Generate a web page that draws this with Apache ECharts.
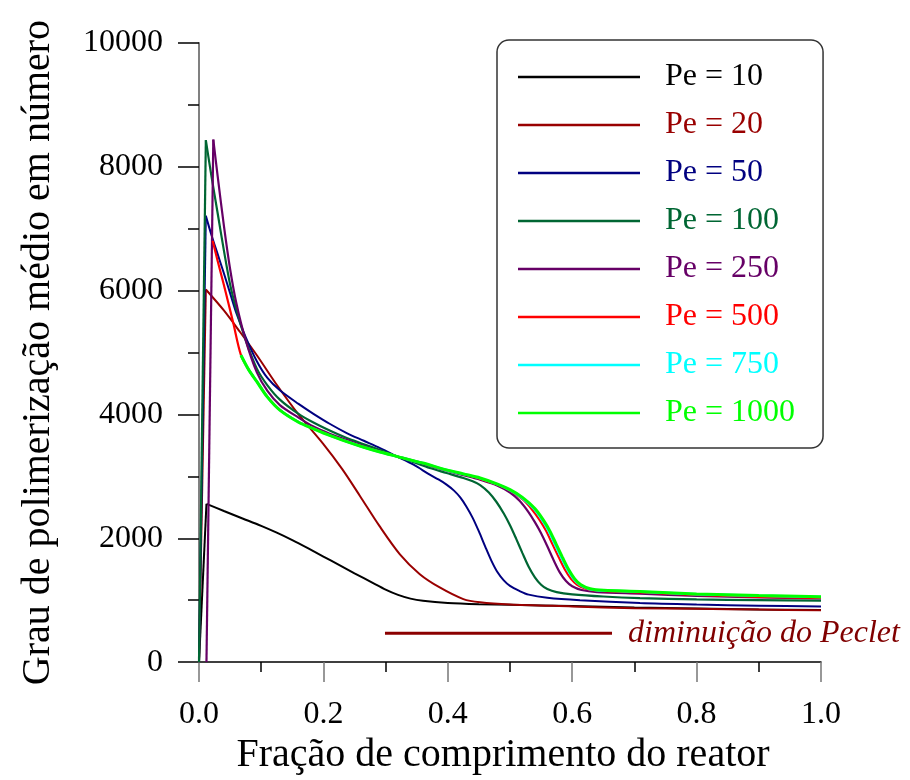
<!DOCTYPE html>
<html>
<head>
<meta charset="utf-8">
<script src="https://cdn.jsdelivr.net/npm/echarts@6/dist/echarts.min.js"></script>
<style>
html,body{margin:0;padding:0;background:#fff;}
#chart{width:910px;height:780px;}
</style>
</head>
<body>
<div id="chart"></div>
<script>
// ---- data (x = fração de comprimento, y = grau de polimerização) ----
const seriesNames = ['Pe = 10','Pe = 20','Pe = 50','Pe = 100','Pe = 250','Pe = 500','Pe = 750','Pe = 1000'];
const seriesColors = ['#000000','#990000','#000080','#006633','#660066','#ff0000','#00ffff','#00ff00'];

// initial rise (straight segments from the inlet to the peak)
const pe10Rise = [[0,0],[0.012,2556]];
const pe20Rise = [[0,0],[0.011,6018]];
const pe50Rise = [[0,0],[0.011,7208]];
const pe100Rise = [[0,0],[0.011,8430]];
const pe250Rise = [[0.012,0],[0.023,8440]];

// decay after the peak
const pe10 = [[0.012,2556],[0.04,2440],[0.07,2320],[0.1,2200],[0.125,2090],[0.15,1970],[0.175,1840],[0.2,1705],[0.225,1570],[0.25,1435],[0.28,1275],[0.3,1170],[0.32,1085],[0.34,1025],[0.36,990],[0.4,955],[0.45,935],[0.5,925],[0.6,905],[0.7,880],[0.8,865],[0.9,850],[1.0,840]];
const pe20 = [[0.011,6018],[0.04,5680],[0.066,5332],[0.093,4957],[0.125,4480],[0.16,4000],[0.2,3520],[0.23,3120],[0.259,2680],[0.29,2200],[0.323,1741],[0.355,1420],[0.387,1206],[0.425,1018],[0.452,965],[0.5,930],[0.6,900],[0.7,870],[0.8,860],[0.9,848],[1.0,838]];
const pe50 = [[0.011,7208],[0.02,6900],[0.03,6590],[0.04,6280],[0.05,5960],[0.06,5640],[0.075,5250],[0.093,4860],[0.11,4590],[0.13,4390],[0.16,4170],[0.184,4010],[0.21,3850],[0.2375,3700],[0.265,3575],[0.291,3457],[0.318,3323],[0.345,3188],[0.371,3028],[0.385,2950],[0.398,2867],[0.41,2770],[0.42,2660],[0.43,2510],[0.44,2330],[0.45,2110],[0.46,1870],[0.47,1640],[0.48,1450],[0.49,1320],[0.5,1230],[0.515,1150],[0.53,1090],[0.56,1040],[0.6125,1000],[0.709,954],[0.8,930],[0.9,912],[1.0,900]];
const pe100 = [[0.011,8430],[0.02,7850],[0.03,7250],[0.04,6650],[0.05,6100],[0.06,5700],[0.075,5200],[0.093,4740],[0.11,4470],[0.13,4240],[0.16,4010],[0.184,3870],[0.21,3740],[0.2375,3620],[0.265,3520],[0.291,3425],[0.318,3323],[0.345,3228],[0.371,3135],[0.398,3055],[0.425,2974],[0.44,2920],[0.452,2860],[0.466,2740],[0.478,2590],[0.49,2400],[0.5,2210],[0.51,1990],[0.52,1760],[0.53,1540],[0.54,1370],[0.55,1250],[0.56,1180],[0.575,1130],[0.6,1095],[0.65,1060],[0.709,1034],[0.8,1012],[0.9,1000],[1.0,992]];
const pe250 = [[0.023,8440],[0.03,7850],[0.04,7050],[0.05,6350],[0.06,5800],[0.075,5200],[0.093,4680],[0.11,4380],[0.13,4152],[0.16,3950],[0.184,3805],[0.21,3690],[0.2375,3590],[0.265,3490],[0.291,3405],[0.318,3323],[0.36,3205],[0.398,3095],[0.425,3020],[0.452,2945],[0.48,2850],[0.5,2740],[0.515,2610],[0.53,2420],[0.54,2260],[0.55,2080],[0.56,1870],[0.57,1650],[0.58,1450],[0.59,1310],[0.6,1225],[0.615,1165],[0.64,1130],[0.709,1105],[0.8,1070],[0.9,1045],[1.0,1029]];
const pe500 = [[0.022,6805],[0.03,6480],[0.039,6130],[0.047,5810],[0.055,5480],[0.0675,4957],[0.08,4720],[0.093,4535],[0.11,4285],[0.13,4075],[0.16,3880],[0.184,3775],[0.21,3665],[0.2375,3565],[0.265,3472],[0.291,3395],[0.318,3323],[0.36,3212],[0.398,3100],[0.425,3035],[0.452,2960],[0.48,2865],[0.5,2770],[0.52,2630],[0.535,2470],[0.548,2290],[0.558,2120],[0.568,1910],[0.578,1700],[0.588,1500],[0.598,1345],[0.608,1250],[0.623,1180],[0.645,1150],[0.709,1125],[0.8,1085],[0.9,1055],[1.0,1035]];
const pe750 = [[0.0675,4957],[0.08,4720],[0.093,4532],[0.11,4282],[0.13,4072],[0.16,3877],[0.184,3772],[0.21,3663],[0.2375,3563],[0.265,3471],[0.291,3394],[0.318,3323],[0.36,3214],[0.398,3103],[0.425,3038],[0.452,2968],[0.48,2870],[0.5,2778],[0.52,2648],[0.539,2470],[0.552,2290],[0.562,2120],[0.572,1910],[0.582,1700],[0.592,1500],[0.602,1345],[0.612,1250],[0.627,1182],[0.649,1155],[0.709,1138],[0.8,1097],[0.9,1071],[1.0,1052]];
const pe1000 = [[0.0675,4957],[0.08,4720],[0.093,4529],[0.11,4280],[0.13,4070],[0.16,3875],[0.184,3770],[0.21,3662],[0.2375,3562],[0.265,3470],[0.291,3393],[0.318,3323],[0.36,3215],[0.398,3105],[0.425,3040],[0.452,2974],[0.48,2875],[0.5,2785],[0.52,2660],[0.54,2480],[0.554,2290],[0.564,2120],[0.574,1910],[0.584,1700],[0.594,1500],[0.604,1345],[0.614,1250],[0.629,1185],[0.651,1160],[0.709,1141],[0.8,1100],[0.9,1075],[1.0,1056]];

const riseData = [pe10Rise, pe20Rise, pe50Rise, pe100Rise, pe250Rise, null, null, null];
const decayData = [pe10, pe20, pe50, pe100, pe250, pe500, pe750, pe1000];
const seriesWidths = [2, 2, 2, 2.2, 2.2, 2.2, 2.5, 3];

const annotationLine = [[0.299, 466], [0.664, 466]];
const annotationText = 'diminuição do Peclet';

const xTitle = 'Fração de comprimento do reator';
const yTitle = 'Grau de polimerização médio em número';

// ---- chart ----
const FONT = '"Liberation Serif", "Times New Roman", serif';
const chart = echarts.init(document.getElementById('chart'), null, {renderer: 'canvas'});

const series = [];
seriesNames.forEach((n, i) => {
  const style = {color: seriesColors[i], width: seriesWidths[i]};
  if (riseData[i]) {
    series.push({
      name: n, type: 'line', data: riseData[i], symbol: 'none', smooth: false,
      z: 2 + i, lineStyle: style, itemStyle: {color: seriesColors[i]}
    });
  }
  series.push({
    name: n, type: 'line', data: decayData[i], symbol: 'none',
    smooth: 0.3,
    z: 2 + i, lineStyle: style, itemStyle: {color: seriesColors[i]}
  });
});

series.push({
  name: 'annotation',
  type: 'line',
  data: annotationLine,
  symbol: 'none',
  lineStyle: {color: '#8b0000', width: 3},
  itemStyle: {color: '#8b0000'},
  endLabel: {
    show: true, distance: 16,
    formatter: annotationText,
    fontFamily: '"Liberation Serif", serif', fontStyle: 'italic', fontSize: 32, color: '#800000'
  },
  z: 20,
  silent: true
});

chart.setOption({
  animation: false,
  backgroundColor: '#ffffff',
  grid: {left: 199, top: 43, width: 622, height: 622, containLabel: false},
  legend: {
    orient: 'vertical',
    left: 497, top: 40,
    padding: [21, 28, 19, 21],
    itemWidth: 122, itemHeight: 2.5, itemGap: 16,
    icon: 'rect',
    borderColor: '#333', borderWidth: 1.5, borderRadius: 12,
    backgroundColor: '#ffffff',
    textStyle: {fontFamily: FONT, fontSize: 32, lineHeight: 32, padding: [0, 0, 0, 20]},
    data: seriesNames.map((n, i) => ({name: n, textStyle: {color: seriesColors[i]}}))
  },
  xAxis: {
    type: 'value', min: 0, max: 1, interval: 0.2,
    name: xTitle, nameLocation: 'middle', nameGap: 68,
    nameTextStyle: {fontFamily: FONT, fontSize: 40, color: '#000', padding: [0, 14, 0, 0]},
    axisLine: {show: true, onZero: false, lineStyle: {color: '#000', width: 1.5}},
    axisTick: {show: true, inside: false, length: 20, lineStyle: {color: '#777', width: 1.5}},
    minorTick: {show: true, splitNumber: 2, length: 10, lineStyle: {color: '#000', width: 1.5}},
    splitLine: {show: false},
    axisLabel: {fontFamily: FONT, fontSize: 32, color: '#000', margin: 36, formatter: v => v.toFixed(1)}
  },
  yAxis: {
    type: 'value', min: 0, max: 10000, interval: 2000,
    name: yTitle, nameLocation: 'middle', nameGap: 141, nameRotate: 90,
    nameTextStyle: {fontFamily: FONT, fontSize: 40, color: '#000'},
    axisLine: {show: true, onZero: false, lineStyle: {color: '#808080', width: 2}},
    axisTick: {show: true, inside: false, length: 21, lineStyle: {color: '#000', width: 1.5}},
    minorTick: {show: true, splitNumber: 2, length: 11, lineStyle: {color: '#000', width: 1.5}},
    splitLine: {show: false},
    axisLabel: {fontFamily: FONT, fontSize: 32, color: '#000', margin: 36, formatter: v => String(v)}
  },
  series: series
});
</script>
</body>
</html>
